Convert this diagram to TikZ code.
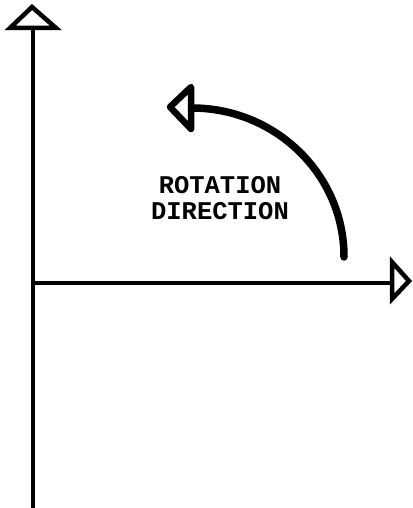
\documentclass[tikz,border=0pt]{standalone}
\usepackage{fontspec}
\newfontfamily\lblfont{Liberation Mono}
\begin{document}
\begin{tikzpicture}[x=1pt,y=-1pt,
  axis/.style={line width=4.8pt},
  openhead/.style={line width=4.5pt,line join=miter,fill=white},
  rot/.style={line width=7.5pt,line cap=round},
  rothead/.style={line width=6.5pt,line join=round,fill=white},
  lbl/.style={font=\fontsize{25.5}{26}\selectfont\lblfont\bfseries,align=center,inner sep=0pt}]
\useasboundingbox (0,0) rectangle (412,508);
% vertical axis
\coordinate (vbot) at (33,508);
\coordinate (vbase) at (33,28);
\draw[axis] (vbot) -- (vbase);
\draw[openhead] (10,28) -- (56,28) -- (32,7) -- cycle;
% horizontal axis
\coordinate (origin) at (33,283);
\coordinate (hbase) at (392,283);
\draw[axis] (origin) -- (hbase);
\draw[openhead] (392,262) -- (392,299) -- (409,281) -- cycle;
% rotation arrow
\coordinate (rstart) at (344,257);
\coordinate (rend) at (192,108);
\draw[rot] (rstart) .. controls (344,174) and (275,108) .. (rend);
\draw[rothead] (170,107) -- (191,87) -- (191,129) -- cycle;
% label
\node[lbl] (label) at (220,198) {ROTATION\\DIRECTION};
\end{tikzpicture}
\end{document}
